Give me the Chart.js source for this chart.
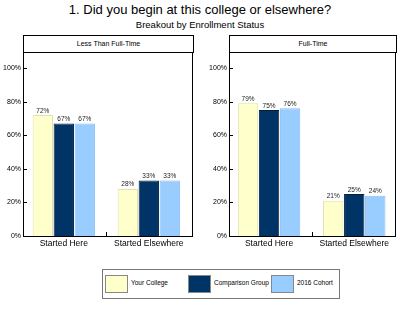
<!DOCTYPE html>
<html>
<head>
<meta charset="utf-8">
<script src="https://cdn.jsdelivr.net/npm/chart.js@4/dist/chart.umd.min.js"></script>
<style>
  body { margin: 0; background: #fff; }
  #page { position: relative; width: 400px; height: 322px; overflow: hidden;
          font-family: "Liberation Sans", Arial, sans-serif; color: #000; }
  .title { position: absolute; left: 0; width: 400px; text-align: center; white-space: nowrap; }
  .panelHead { position: absolute; top: 35px; height: 16px; border: 1px solid #000;
               box-sizing: content-box; font-size: 7px; line-height: 16px; text-align: center; }
  canvas { position: absolute; }
  #legend { position: absolute; left: 102px; top: 269px; width: 236px; height: 28px;
            border: 1px solid #777; }
  .item { position: absolute; top: 5px; height: 18px; }
  .swatch { position: absolute; left: 0; top: 0; width: 21px; height: 16px; border: 1px solid #888; }
  .label { position: absolute; left: 26px; top: 0; line-height: 16px; font-size: 6.5px; white-space: nowrap; }
</style>
</head>
<body>
<div id="page">
  <div class="title" style="top:2px;font-size:13px;">1. Did you begin at this college or elsewhere?</div>
  <div class="title" style="top:19px;font-size:9.5px;">Breakout by Enrollment Status</div>
  <div class="panelHead" style="left:23px;width:169px;">Less Than Full-Time</div>
  <div class="panelHead" style="left:229px;width:166px;">Full-Time</div>
  <canvas id="chartLeft" width="197" height="208" style="left:0;top:52px;"></canvas>
  <canvas id="chartRight" width="198" height="208" style="left:200px;top:52px;"></canvas>
  <div id="legend"></div>
</div>
<script>
// categories and series
const categories = ['Started Here', 'Started Elsewhere'];
const seriesNames = ['Your College', 'Comparison Group', '2016 Cohort'];
const seriesColors = ['#FFFFCC', '#003366', '#99CCFF'];
const seriesBorders = ['#e0e0b0', '#00203f', '#85bdf2'];

// percentages, one array per series
const lessYourCollege = [72, 28];
const lessComparison = [67, 33];
const lessCohort = [67, 33];

const fullYourCollege = [79, 21];
const fullComparison = [75, 25];
const fullCohort = [76, 24];

const yTicks = [0, 20, 40, 60, 80, 100];

const FONT = '"Liberation Sans", Arial, sans-serif';

// box round the plot, inward tick marks, value labels
const decorations = {
    id: 'decorations',
    afterDatasetsDraw(chart) {
        const ctx = chart.ctx;
        const a = chart.chartArea;
        const ys = chart.scales.y;
        const xs = chart.scales.x;
        ctx.save();
        ctx.strokeStyle = '#000';
        ctx.lineWidth = 1;
        ctx.beginPath();
        for (const v of yTicks) {
            const py = Math.round(ys.getPixelForValue(v)) + 0.5;
            ctx.moveTo(a.left, py);
            ctx.lineTo(a.left + 4, py);
        }
        // small mark between the two groups
        const mx = Math.round(xs.getPixelForValue(0.5)) + 0.5;
        ctx.moveTo(mx, a.bottom);
        ctx.lineTo(mx, a.bottom - 4);
        ctx.stroke();
        ctx.strokeRect(Math.round(a.left) + 0.5, Math.round(a.top) + 0.5,
            Math.round(a.right - a.left) - 1, Math.round(a.bottom - a.top));

        ctx.fillStyle = '#222';
        ctx.font = '6.5px ' + FONT;
        ctx.textAlign = 'center';
        ctx.textBaseline = 'bottom';
        chart.data.datasets.forEach((ds, i) => {
            const meta = chart.getDatasetMeta(i);
            meta.data.forEach((bar, j) => {
                ctx.fillText(ds.data[j].y + '%', bar.x, bar.y - 1);
            });
        });
        ctx.restore();
    }
};

function makePanel(id, values, xMin, xMax, yWidth, padRight) {
    const datasets = values.map((vals, i) => ({
        label: seriesNames[i],
        data: vals.map((v, j) => ({ x: j, y: v })),
        backgroundColor: seriesColors[i],
        borderColor: seriesBorders[i],
        borderWidth: 1,
        categoryPercentage: 0.74,
        barPercentage: 0.97
    }));
    return new Chart(document.getElementById(id), {
        type: 'bar',
        data: { datasets: datasets },
        options: {
            responsive: false,
            animation: false,
            layout: { padding: { left: 0, right: padRight, top: 0, bottom: 0 } },
            plugins: { legend: { display: false }, tooltip: { enabled: false } },
            scales: {
                x: {
                    type: 'linear',
                    offset: false,
                    min: xMin,
                    max: xMax,
                    grid: { display: false, drawTicks: false, offset: false },
                    border: { display: false },
                    afterBuildTicks: (s) => { s.ticks = categories.map((c, i) => ({ value: i })); },
                    afterFit: (s) => { s.height = 24; s.paddingLeft = 0; s.paddingRight = 0; },
                    ticks: {
                        autoSkip: false,
                        maxRotation: 0,
                        padding: 3,
                        color: '#000',
                        font: { family: FONT, size: 8.5 },
                        callback: (v) => categories[v]
                    }
                },
                y: {
                    min: 0,
                    max: 109.5,
                    grid: { display: false, drawTicks: false },
                    border: { display: false },
                    afterBuildTicks: (s) => { s.ticks = yTicks.map(v => ({ value: v })); },
                    afterFit: (s) => { s.width = yWidth; s.paddingTop = 0; s.paddingBottom = 0; },
                    ticks: {
                        padding: 2,
                        color: '#000',
                        font: { family: FONT, size: 7 },
                        callback: (v) => v + '%'
                    }
                }
            }
        },
        plugins: [decorations]
    });
}

makePanel('chartLeft', [lessYourCollege, lessComparison, lessCohort], -0.48, 1.52, 23, 4);
makePanel('chartRight', [fullYourCollege, fullComparison, fullCohort], -0.47, 1.49, 29, 2);

// legend under the panels
const legend = document.getElementById('legend');
seriesNames.forEach((name, i) => {
    const item = document.createElement('div');
    item.className = 'item';
    item.style.left = (2 + i * 83) + 'px';
    const sw = document.createElement('div');
    sw.className = 'swatch';
    sw.style.background = seriesColors[i];
    const lb = document.createElement('div');
    lb.className = 'label';
    lb.textContent = name;
    item.appendChild(sw);
    item.appendChild(lb);
    legend.appendChild(item);
});
</script>
</body>
</html>
